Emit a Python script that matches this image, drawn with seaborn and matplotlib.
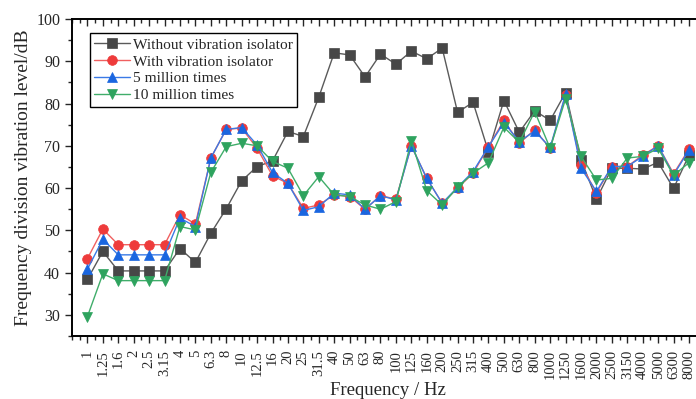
import numpy as np
import pandas as pd
import matplotlib
matplotlib.use("Agg")
import matplotlib.pyplot as plt
import seaborn as sns
from matplotlib.ticker import MultipleLocator

freq_labels = ["1", "1.25", "1.6", "2", "2.5", "3.15", "4", "5", "6.3", "8", "10", "12.5",
               "16", "20", "25", "31.5", "40", "50", "63", "80", "100", "125", "160", "200",
               "250", "315", "400", "500", "630", "800", "1000", "1250", "1600", "2000",
               "2500", "3150", "4000", "5000", "6300", "8000"]

without_isolator = [38.4, 45.0, 40.4, 40.4, 40.4, 40.4, 45.7, 42.4, 49.3, 55.1, 61.7, 65.1,
                    66.4, 73.4, 72.2, 81.5, 92.0, 91.5, 86.3, 91.7, 89.3, 92.4, 90.6, 93.1,
                    77.9, 80.3, 68.6, 80.7, 73.2, 78.3, 76.0, 82.6, 66.7, 57.4, 64.7, 64.7,
                    64.5, 66.1, 59.9, 67.8]
with_isolator = [43.3, 50.3, 46.6, 46.6, 46.6, 46.6, 53.7, 51.5, 67.1, 73.9, 74.2, 69.4,
                 62.9, 61.1, 55.2, 56.0, 58.4, 58.0, 55.0, 58.2, 57.4, 70.0, 62.3, 56.4,
                 60.0, 63.5, 69.8, 76.0, 70.6, 73.8, 69.4, 82.0, 65.5, 58.9, 65.1, 65.1,
                 67.8, 70.0, 63.4, 69.2]
five_million = [40.8, 47.9, 44.2, 44.2, 44.2, 44.2, 52.9, 50.9, 67.1, 73.9, 74.3, 70.2,
                63.7, 61.1, 54.7, 55.6, 58.8, 58.4, 55.0, 58.2, 57.2, 70.0, 62.3, 56.4,
                60.2, 63.9, 69.8, 75.5, 71.0, 73.5, 69.6, 82.2, 64.7, 59.2, 65.1, 65.1,
                67.5, 70.0, 63.1, 69.0]
ten_million = [29.6, 39.7, 38.1, 38.1, 38.1, 38.1, 50.9, 50.1, 63.7, 69.8, 70.6, 70.0,
               66.3, 64.7, 58.2, 62.7, 58.4, 58.0, 56.0, 55.0, 56.8, 71.2, 59.4, 56.0,
               60.2, 63.5, 66.0, 74.4, 70.8, 78.1, 69.4, 81.1, 67.5, 61.9, 62.3, 67.1,
               67.5, 69.4, 63.0, 66.0]

series_names = ["Without vibration isolator", "With vibration isolator",
                "5 million times", "10 million times"]
series_values = [without_isolator, with_isolator, five_million, ten_million]

sns.set_style("ticks")
plt.rcParams['font.family'] = ['Liberation Serif', 'DejaVu Serif']
plt.rcParams['mathtext.fontset'] = 'stix'

fig = plt.figure(figsize=(6.96, 3.99), dpi=100)
W, H = 696, 399
left, right, top, bottom = 72, 704.4, 19, 336
ax = fig.add_axes([left / W, (H - bottom) / H, (right - left) / W, (bottom - top) / H])

styles = [
    dict(marker="s", mcolor="#474747", lcolor="#5a5a5a", ms=6.5),
    dict(marker="o", mcolor="#ee3b3b", lcolor="#f06060", ms=7.0),
    dict(marker="^", mcolor="#1a66e0", lcolor="#3a7ae6", ms=7.5),
    dict(marker="v", mcolor="#2ea35e", lcolor="#40ad6a", ms=7.5),
]

idx = np.arange(len(freq_labels))
for name, vals, st in zip(series_names, series_values, styles):
    df = pd.DataFrame({"x": idx, "y": vals})
    sns.lineplot(data=df, x="x", y="y", ax=ax, color=st["lcolor"], lw=1.0,
                 marker=st["marker"], markersize=st["ms"], markerfacecolor=st["mcolor"],
                 markeredgecolor=st["mcolor"], markeredgewidth=0.5, label=name)

ax.set_xlim(-1, 40)
ax.set_ylim(25, 100)
ax.set_xticks(idx)
ax.set_xticklabels(freq_labels, rotation=90, fontsize=10.5)
ax.xaxis.set_minor_locator(MultipleLocator(0.5))
ax.set_yticks(np.arange(30, 101, 10))
ax.yaxis.set_minor_locator(MultipleLocator(5))
ax.tick_params(axis="y", which="major", direction="out", length=5, width=1, labelsize=11.5)
ax.tick_params(axis="y", which="minor", direction="out", length=3, width=1)
ax.tick_params(axis="x", which="major", direction="out", length=5, width=1, pad=5)
ax.tick_params(axis="x", which="minor", direction="out", length=3, width=1)

# top axis: ticks pointing inward, no labels
ax_top = ax.twiny()
ax_top.set_xlim(ax.get_xlim())
ax_top.set_xticks(idx)
ax_top.xaxis.set_minor_locator(MultipleLocator(0.5))
ax_top.tick_params(axis="x", which="major", direction="in", length=5, width=1,
                   labeltop=False)
ax_top.tick_params(axis="x", which="minor", direction="in", length=3, width=1)
ax_top.grid(False)

for a in (ax, ax_top):
    for s in a.spines.values():
        s.set_linewidth(1.2)
        s.set_color("black")

ax.set_xlabel("Frequency / Hz", fontsize=13.5, labelpad=2)
ax.set_ylabel("Frequency division vibration level/dB", fontsize=14, labelpad=3)

leg = ax.legend(loc="upper left", bbox_to_anchor=(0.028, 0.955), fontsize=11.1,
                frameon=True, fancybox=False, framealpha=1, edgecolor="black",
                borderpad=0.3, labelspacing=0.2, handlelength=2.3, handletextpad=0.2,
                borderaxespad=0)
leg.get_frame().set_linewidth(1.0)

fig.savefig("out.png", dpi=100)
